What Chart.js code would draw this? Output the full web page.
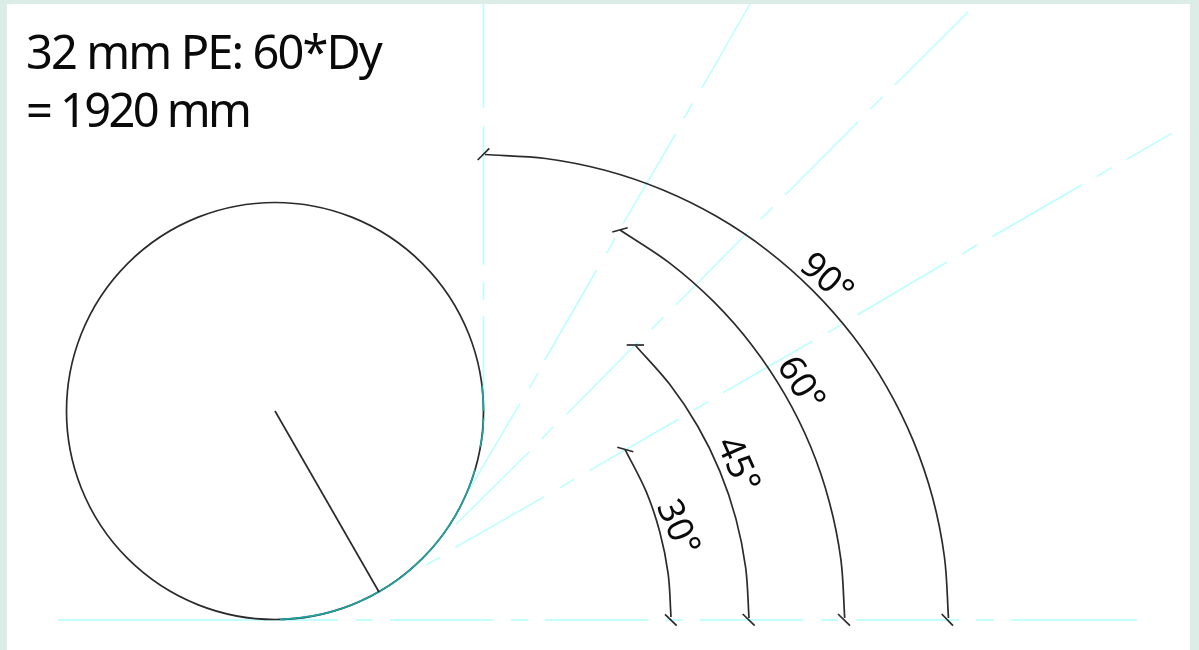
<!DOCTYPE html>
<html><head><meta charset="utf-8">
<script src="https://cdn.jsdelivr.net/npm/chart.js@4"></script>
<style>
html,body{margin:0;padding:0;width:1199px;height:650px;overflow:hidden;background:#dcece7}
#sheet{position:absolute;left:7px;top:4px;width:1183px;height:646px;background:#fff}
#wrap{position:absolute;left:0;top:0;width:1199px;height:650px}
</style></head><body>
<div id="sheet"></div>
<div id="wrap"><canvas id="c" width="1199" height="650"></canvas></div>
<script>
const titleLines = ["32 mm PE: 60*Dy", "= 1920 mm"];
const angleLabels = ["30°", "45°", "60°", "90°"];

const pipeCentre = [[275, 411]];
const pipeRadiusLine = [[275, 411], [379, 592]];

const arc30 = [[625,449.3],[646,491.2],[659.8,532],[668.2,574.1],[671,617]];
const arc45 = [[635.7,345.7],[669.7,384.3],[697.6,426],[719.8,471.1],[735.9,518.6],[745.7,567.9],[749,618]];
const arc60 = [[620,230],[669.7,263.1],[713.7,301.7],[752.3,345.7],[784.8,394.4],[810.7,446.8],[829.4,502.2],[840.9,559.6],[844.7,618]];
const arc90 = [[485,154.5],[545.5,158.5],[605,170.3],[662.4,189.8],[716.8,216.6],[767.2,250.3],[812.7,290.3],[852.7,335.8],[886.4,386.3],[913.2,440.6],[932.7,498],[944.5,557.5],[948.5,618]];

const ticks = [
  [[665,614.3],[676.7,625.7]], [[742.7,614],[754.7,625.7]], [[838,614],[850,625.7]], [[941.7,614],[953,625.7]],
  [[617.3,447.3],[633.3,451.7]], [[626.7,345],[644,345]], [[612.3,232],[627.7,227.7]], [[477.7,160],[489.3,148.3]]
];

const baseDashes = [[58,338],[356,373],[390,493],[511,528],[545,648],[666,683],[700,803],[821,838],[856,959],[976,994],[1011,1137]];
const verticalDashes = [[4,108],[126,265],[282,300],[316,420]];
const line60 = [[[750,4],[701.7,88.3]],[[692.3,103.3],[684,118.3]],[[675.7,134],[623.3,223.3]],[[615,238.3],[606.7,253.3]],[[596.7,270],[544.7,360]],[[538,373],[529.3,388.3]],[[520,403.3],[470,488.3]]];
const line45 = [[[968.3,11.7],[895,84.7]],[[882.7,96.7],[870,109.3]],[[858.3,121.7],[785.3,195]],[[772.7,207.3],[760.7,219.3]],[[748.3,231.7],[676,305]],[[663.3,317.3],[651.7,329.3]],[[638.3,341.7],[566.7,414.3]],[[553.3,426.7],[541.7,439]],[[529.3,451.7],[456,524.3]]];
const line30 = [[[1171.7,133.3],[1126.7,159.3]],[[1111.7,167.7],[1096.7,176.7]],[[1081.7,185],[992.5,236.5]],[[977,245],[962,254]],[[947,262],[857.3,315]],[[841.7,324.3],[828.3,332.3]],[[812.7,341],[723.3,392.7]],[[708.3,401.7],[694,410]],[[679,419],[589.3,470.7]],[[574,479.3],[560,487.7]],[[544.3,496.7],[455,547.7]],[[440,557.3],[425.7,565]]];

const tealArcs = [
  [[280,619.5],[304,617.2],[329,612.4],[354.8,603.7],[379.3,591.6],[402,576.6],[422.4,558.4],[440.4,537.9],[455.6,515.3],[467.6,491],[475,469.9]],
  [[480.3,447.2],[482.8,432],[483.4,418.3]],
  [[483.5,411],[483,398],[482,385.6]]
];

const INK = '#2b2b2b', CYAN = '#baffff', TEAL = '#1fa3a3';
const pts = a => a.map(p => ({x: p[0], y: p[1]}));
const datasets = [];
function addLine(a, color, width, tension, order) {
  datasets.push({type:'line', data: pts(a), borderColor: color, borderWidth: width, tension: tension||0,
    pointRadius: 0, fill: false, parsing: false, borderCapStyle:'butt', order});
}
baseDashes.forEach(d => addLine([[d[0],620],[d[1],620]], '#c4ffff', 2, 0, 4));
verticalDashes.forEach(d => addLine([[483.5,d[0]],[483.5,d[1]]], CYAN, 1.6, 0, 4));
[line60,line45,line30].forEach(l => l.forEach(s => addLine(s, CYAN, 1.5, 0, 4)));
datasets.push({type:'scatter', order:3, data: pts(pipeCentre), pointStyle:'circle', pointRadius:208.5, pointHoverRadius:208.5,
  pointBackgroundColor:'rgba(0,0,0,0)', pointBorderColor:INK, pointBorderWidth:1.7, showLine:false, clip:false});
tealArcs.forEach(a => addLine(a, TEAL, 1.7, 0.33, 2));
addLine(pipeRadiusLine, INK, 1.7, 0, 1);
[arc30,arc45,arc60,arc90].forEach(a => addLine(a, INK, 1.7, 0.33, 1));
ticks.forEach(t => addLine(t, INK, 1.7, 0, 1));

const titleAt = [[26,69],[26,127]];
const titleSpacing = ['-1.9px','-2.6px'];
const labelAt = [[677,528,66],[737,465,66],[800,384,58],[826,279,41]];
const textPlugin = {
  id:'drawingText',
  afterDatasetsDraw(chart){
    const c = chart.ctx, X = chart.scales.x, Y = chart.scales.y;
    c.save();
    c.fillStyle = '#0a0a0a';
    c.textAlign = 'left'; c.textBaseline = 'alphabetic';
    c.font = '47px "Noto Sans"';
    titleLines.forEach((t,i) => {
      c.letterSpacing = titleSpacing[i];
      c.fillText(t, X.getPixelForValue(titleAt[i][0]), Y.getPixelForValue(titleAt[i][1]));
    });
    c.font = '36px "Noto Sans"';
    c.letterSpacing = '0px';
    c.textAlign = 'center'; c.textBaseline = 'middle';
    angleLabels.forEach((t,i) => {
      c.save();
      c.translate(X.getPixelForValue(labelAt[i][0]), Y.getPixelForValue(labelAt[i][1]));
      c.rotate(labelAt[i][2]*Math.PI/180);
      c.fillText(t,0,0);
      c.restore();
    });
    c.restore();
  }
};
new Chart(document.getElementById('c'), {
  type:'scatter',
  data:{datasets},
  plugins:[textPlugin],
  options:{
    responsive:false, animation:false,
    layout:{padding:0, autoPadding:false},
    plugins:{legend:{display:false},tooltip:{enabled:false},title:{display:false}},
    events:[],
    scales:{
      x:{type:'linear',display:false,min:0,max:1199},
      y:{type:'linear',display:false,min:0,max:650,reverse:true}
    }
  }
});
</script>
</body></html>
